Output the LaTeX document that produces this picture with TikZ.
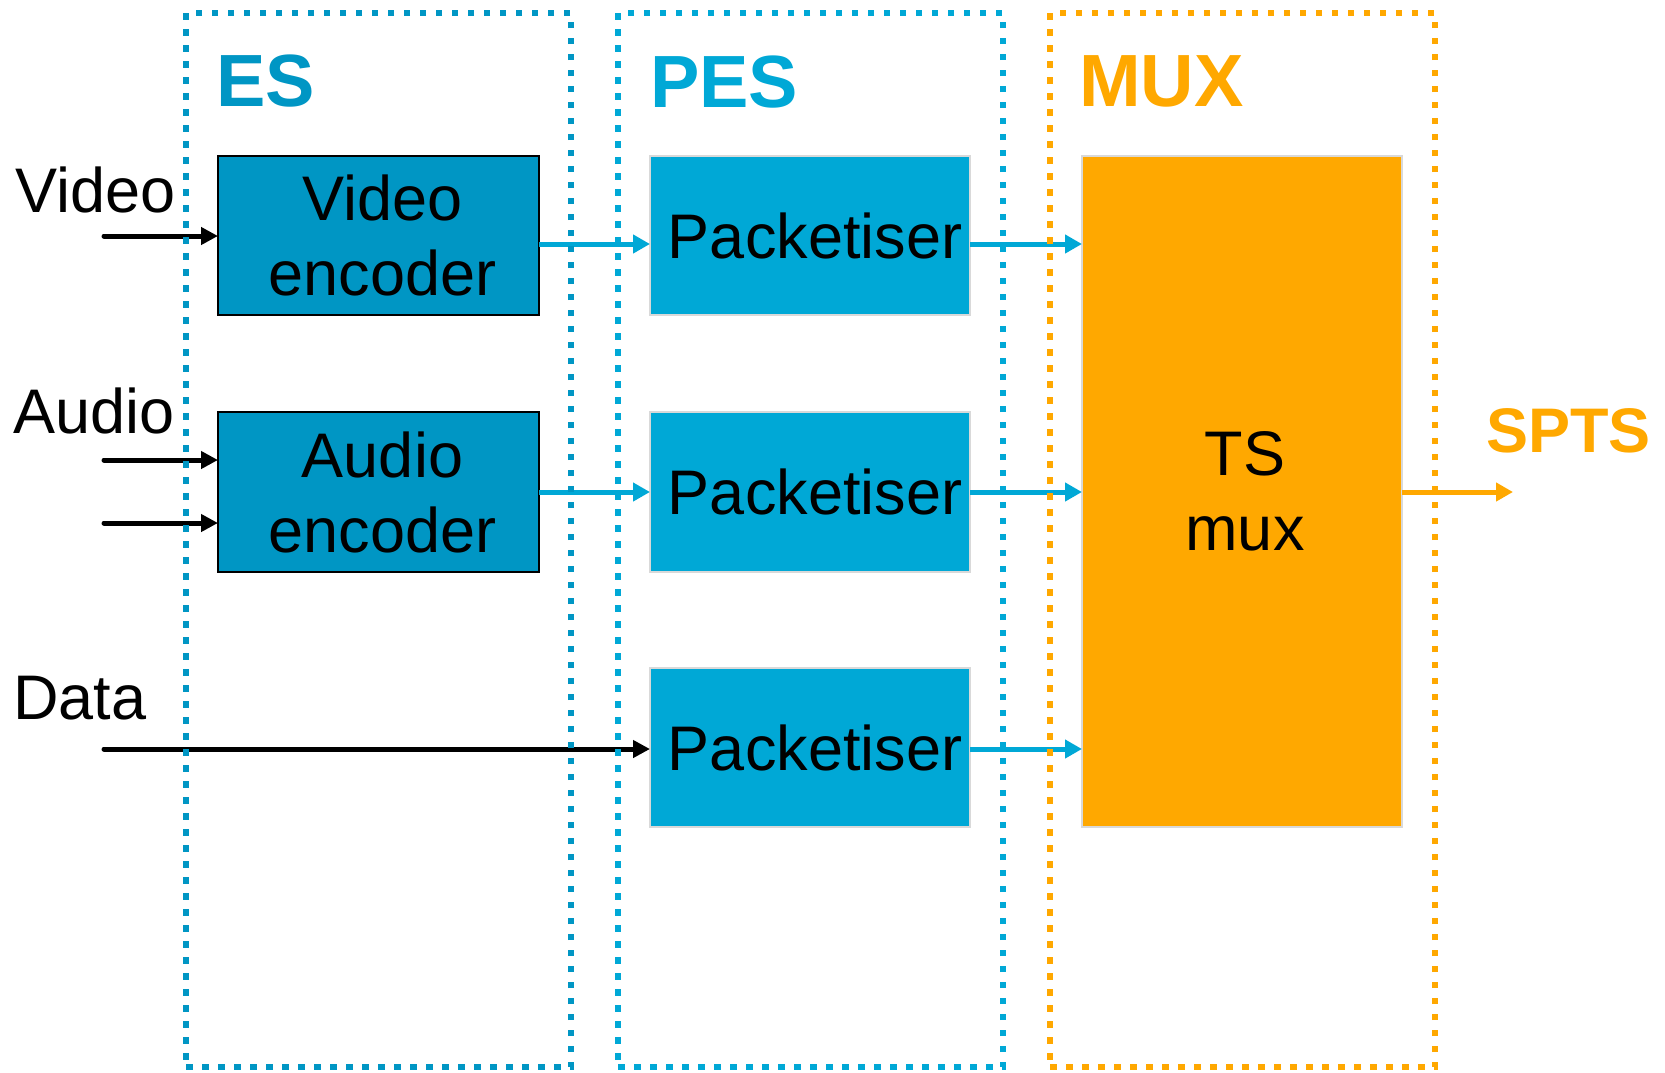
\documentclass[tikz,border=0pt]{standalone}
\usepackage{fontspec}
\setmainfont{Liberation Sans}
\usetikzlibrary{arrows.meta}
\definecolor{esblue}{HTML}{0096C4}
\definecolor{pesblue}{HTML}{00A8D6}
\definecolor{muxorange}{HTML}{FFA800}
\definecolor{lightborder}{HTML}{D9D9D9}
\begin{document}
\begin{tikzpicture}[x=1pt,y=-1pt,
  frame/.style={draw, line width=6.5pt, dash pattern=on 6.5pt off 9.5pt, inner sep=0pt, outer sep=0pt, anchor=north west, minimum width=385pt, minimum height=1054pt},
  encbox/.style={draw=black, line width=2pt, fill=esblue, inner sep=0pt, outer sep=0pt, anchor=north west, minimum width=321pt, minimum height=159pt, align=center, font=\fontsize{63}{75}\selectfont, text depth=0pt},
  pktbox/.style={draw=lightborder, line width=2pt, fill=pesblue, inner sep=0pt, outer sep=0pt, anchor=north west, minimum width=320pt, minimum height=159pt, align=center, font=\fontsize{63}{75}\selectfont},
  inlabel/.style={anchor=base west, inner sep=0pt, font=\fontsize{63}{75}\selectfont},
  stagelabel/.style={anchor=base west, inner sep=0pt, font=\fontsize{74}{80}\selectfont\bfseries},
  blackarrow/.style={draw=black, line width=5pt, line cap=round, -{Triangle[length=17pt,width=17pt]}},
  bluearrow/.style={draw=pesblue, line width=5pt, -{Triangle[length=17pt,width=18pt]}},
  orangearrow/.style={draw=muxorange, line width=5pt, -{Triangle[length=17pt,width=18pt]}}
]
\useasboundingbox (0,0) rectangle (1665,1072);

% boxes
\node[encbox] (venc) at (218,156) {\hspace*{8pt}Video\\\hspace*{8pt}encoder};
\node[encbox, minimum height=160pt] (aenc) at (218,412) {\hspace*{8pt}Audio\\\hspace*{8pt}encoder};
\node[pktbox] (p1) at (650,156) {\hspace*{10pt}Packetiser};
\node[pktbox, minimum height=160pt] (p2) at (650,412) {\hspace*{10pt}Packetiser};
\node[pktbox] (p3) at (650,668) {\hspace*{10pt}Packetiser};
\node[pktbox, fill=muxorange, minimum height=671pt] (ts) at (1082,156) {\hspace*{6pt}TS\\\hspace*{6pt}mux};

% labels
\node[inlabel] (vlab) at (15,212) {Video};
\node[inlabel] (alab) at (13,433) {Audio};
\node[inlabel] (dlab) at (13,719) {Data};
\node[stagelabel, text=esblue] (eslab) at (216,106) {ES};
\node[stagelabel, text=pesblue] (peslab) at (650,107) {PES};
\node[stagelabel, text=muxorange] (muxlab) at (1079,106) {MUX};
\node[anchor=base west, inner sep=0pt, font=\fontsize{63}{70}\selectfont\bfseries, text=muxorange] (spts) at (1486,452) {SPTS};

% input arrows
\coordinate (vin) at (104,236);
\coordinate (ain1) at (104,460);
\coordinate (ain2) at (104,523);
\coordinate (din) at (104,749);
\draw[blackarrow] (vin) -- (vin -| venc.west);
\draw[blackarrow] (ain1) -- (ain1 -| aenc.west);
\draw[blackarrow] (ain2) -- (ain2 -| aenc.west);
\draw[blackarrow] (din) -- (din -| p3.west);

% encoder to packetiser
\coordinate (vo) at ([yshift=-8.5pt]venc.east);
\draw[bluearrow] (vo) -- (vo -| p1.west);
\draw[bluearrow] (aenc.east) -- (aenc.east -| p2.west);

% packetiser to mux
\coordinate (p1o) at ([yshift=-8.5pt]p1.east);
\draw[bluearrow] (p1o) -- (p1o -| ts.west);
\draw[bluearrow] (p2.east) -- (p2.east -| ts.west);
\coordinate (p3o) at ([yshift=-1.5pt]p3.east);
\draw[bluearrow] (p3o) -- (p3o -| ts.west);

% output
\coordinate (out) at (1513,492);
\coordinate (tso) at (ts.east |- out);
\draw[orangearrow] (tso) -- (out);

% dotted frames
\node[frame, draw=esblue] (es) at (186,13) {};
\node[frame, draw=pesblue] (pes) at (618,13) {};
\node[frame, draw=muxorange] (mux) at (1050,13) {};
\end{tikzpicture}
\end{document}
